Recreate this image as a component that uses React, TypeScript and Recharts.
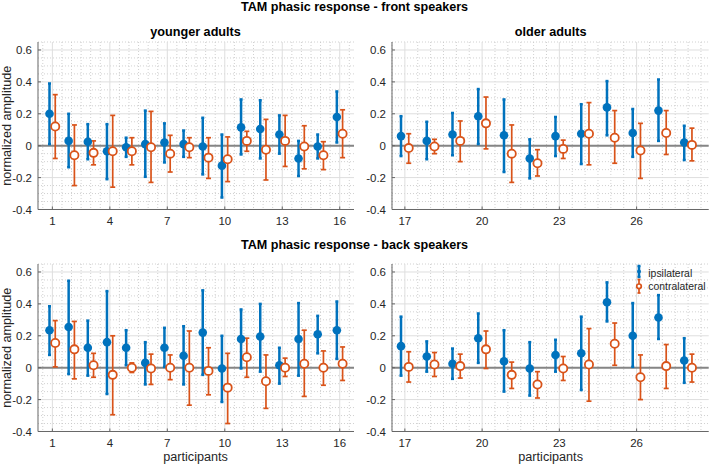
import React from 'react';
import { ComposedChart, Scatter, ErrorBar, XAxis, YAxis, CartesianGrid, ReferenceLine } from 'recharts';

// ---------- categories / ticks ----------
const youngerParticipants = [1, 2, 3, 4, 5, 6, 7, 8, 9, 10, 11, 12, 13, 14, 15, 16];
const olderParticipants = [17, 18, 19, 20, 21, 22, 23, 24, 25, 26, 27, 28];
const youngerTicks = [1, 4, 7, 10, 13, 16];
const olderTicks = [17, 20, 23, 26];
const amplitudeTicks = [-0.4, -0.2, 0, 0.2, 0.4, 0.6];

// ---------- front speakers, younger adults ----------
const frontYoungIpsiMean = [0.2, 0.03, 0.025, -0.035, -0.01, 0.01, 0.02, 0.01, -0.005, -0.125, 0.115, 0.105, 0.07, -0.08, -0.005, 0.18];
const frontYoungIpsiLow = [0.01, -0.135, -0.085, -0.21, -0.07, -0.195, -0.105, -0.07, -0.18, -0.325, -0.055, -0.08, -0.05, -0.19, -0.08, 0.02];
const frontYoungIpsiHigh = [0.39, 0.2, 0.135, 0.135, 0.05, 0.22, 0.14, 0.095, 0.175, 0.07, 0.29, 0.285, 0.19, 0.03, 0.07, 0.34];
const frontYoungContraMean = [0.12, -0.06, -0.045, -0.035, -0.035, -0.01, -0.05, -0.01, -0.075, -0.085, 0.03, -0.025, 0.03, -0.005, -0.06, 0.075];
const frontYoungContraLow = [-0.08, -0.25, -0.12, -0.26, -0.12, -0.23, -0.165, -0.075, -0.205, -0.225, -0.035, -0.215, -0.13, -0.145, -0.15, -0.075];
const frontYoungContraHigh = [0.32, 0.13, 0.03, 0.19, 0.05, 0.215, 0.065, 0.05, 0.05, 0.055, 0.09, 0.165, 0.19, 0.125, 0.025, 0.225];

// ---------- front speakers, older adults ----------
const frontOldIpsiMean = [0.06, 0.03, 0.07, 0.185, 0.065, -0.08, 0.06, 0.075, 0.24, 0.08, 0.22, 0.02];
const frontOldIpsiLow = [-0.065, -0.085, -0.06, 0.01, -0.165, -0.205, -0.065, -0.115, 0.065, -0.07, 0.03, -0.09];
const frontOldIpsiHigh = [0.185, 0.15, 0.205, 0.355, 0.29, 0.04, 0.18, 0.26, 0.405, 0.23, 0.415, 0.125];
const frontOldContraMean = [-0.015, -0.005, 0.03, 0.14, -0.05, -0.11, -0.02, 0.075, 0.05, -0.03, 0.08, 0.005];
const frontOldContraLow = [-0.11, -0.05, -0.1, -0.02, -0.23, -0.19, -0.08, -0.12, -0.11, -0.205, -0.055, -0.095];
const frontOldContraHigh = [0.075, 0.04, 0.155, 0.305, 0.13, -0.025, 0.035, 0.27, 0.22, 0.14, 0.22, 0.11];

// ---------- back speakers, younger adults ----------
const backYoungIpsiMean = [0.235, 0.255, 0.125, 0.16, 0.125, 0.03, 0.125, 0.075, 0.22, -0.005, 0.18, 0.195, 0.015, 0.18, 0.21, 0.235];
const backYoungIpsiLow = [0.08, -0.04, -0.05, -0.165, 0.015, -0.105, 0.005, -0.105, -0.045, -0.215, -0.005, -0.025, -0.1, -0.05, 0.09, 0.055];
const backYoungIpsiHigh = [0.385, 0.545, 0.295, 0.48, 0.235, 0.16, 0.25, 0.26, 0.485, 0.2, 0.365, 0.4, 0.125, 0.405, 0.325, 0.415];
const backYoungContraMean = [0.155, 0.115, 0.015, -0.045, 0.0, -0.005, 0.0, 0.0, -0.02, -0.125, 0.065, -0.085, 0.0, 0.025, 0.0, 0.025];
const backYoungContraLow = [0.005, -0.07, -0.06, -0.295, -0.03, -0.105, -0.075, -0.235, -0.17, -0.35, -0.06, -0.255, -0.055, -0.18, -0.11, -0.08];
const backYoungContraHigh = [0.295, 0.29, 0.09, 0.2, 0.03, 0.085, 0.08, 0.23, 0.125, 0.09, 0.185, 0.08, 0.06, 0.235, 0.105, 0.13];

// ---------- back speakers, older adults ----------
const backOldIpsiMean = [0.135, 0.07, 0.025, 0.185, 0.04, -0.005, 0.08, 0.09, 0.41, 0.2, 0.315, 0.045];
const backOldIpsiLow = [-0.05, -0.025, -0.07, 0.03, -0.15, -0.175, -0.025, -0.14, 0.29, 0.005, 0.18, -0.095];
const backOldIpsiHigh = [0.32, 0.165, 0.12, 0.34, 0.235, 0.16, 0.175, 0.32, 0.535, 0.405, 0.455, 0.185];
const backOldContraMean = [0.005, 0.02, 0.01, 0.115, -0.045, -0.105, -0.005, 0.02, 0.15, -0.06, 0.01, 0.0];
const backOldContraLow = [-0.09, -0.055, -0.065, -0.005, -0.13, -0.19, -0.08, -0.21, 0.015, -0.2, -0.13, -0.09];
const backOldContraHigh = [0.1, 0.095, 0.085, 0.23, 0.035, -0.025, 0.07, 0.245, 0.28, 0.08, 0.145, 0.085];

// ---------- styling ----------
const BLUE = '#0072BD';
const ORANGE = '#D95319';
const FONT = '"Liberation Sans", Arial, Helvetica, sans-serif';
const TEXT = '#262626';

const DODGE = 0.15;

function buildSeries(participants: number[], mean: number[], low: number[], high: number[], offset: number) {
  return participants.map((p, i) => ({
    x: p + offset,
    y: mean[i],
    err: [mean[i] - low[i], high[i] - mean[i]],
  }));
}

function range(from: number, to: number, step: number, skipEvery: number) {
  const out: number[] = [];
  const n = Math.round((to - from) / step);
  for (let i = 0; i <= n; i++) {
    const v = Math.round((from + i * step) * 1000) / 1000;
    const r = v / skipEvery;
    if (Math.abs(r - Math.round(r)) > 1e-6) out.push(v);
  }
  return out;
}

const Y_DOMAIN: [number, number] = [-0.4, 0.65];
const minorY = range(-0.4, 0.65, 0.05, 0.2);

const IpsiDot = (props: any) => {
  const { cx, cy } = props;
  if (cx == null || cy == null) return null;
  return <circle cx={cx} cy={cy} r={4.3} fill={BLUE} />;
};
const ContraDot = (props: any) => {
  const { cx, cy } = props;
  if (cx == null || cy == null) return null;
  return <circle cx={cx} cy={cy} r={4.1} fill="#ffffff" stroke={ORANGE} strokeWidth={1.8} />;
};

type PanelProps = {
  plotLeft: number;
  plotTop: number;
  plotWidth: number;
  plotHeight: number;
  xDomain: [number, number];
  xTicks: number[];
  ipsi: any[];
  contra: any[];
};

const ML = 7;
const YW = 30;
const MT = 6;
const XH = 24;

function Panel({ plotLeft, plotTop, plotWidth, plotHeight, xDomain, xTicks, ipsi, contra }: PanelProps) {
  const width = ML + YW + plotWidth;
  const height = MT + plotHeight + XH;
  const minorX = range(Math.ceil(xDomain[0] * 2) / 2, Math.floor(xDomain[1] * 2) / 2, 0.5, 1000).filter(
    (v) => !xTicks.includes(v)
  );
  return (
    <div style={{ position: 'absolute', left: plotLeft - ML - YW, top: plotTop - MT, width, height }}>
      <ComposedChart width={width} height={height} margin={{ top: MT, right: 0, bottom: 0, left: ML }}>
        <CartesianGrid
          horizontal
          vertical
          horizontalValues={minorY}
          verticalValues={minorX}
          stroke="#c4c4c4"
          strokeDasharray="1 2"
          strokeWidth={0.8}
        />
        <CartesianGrid
          horizontal
          vertical
          horizontalValues={amplitudeTicks}
          verticalValues={xTicks}
          stroke="#dedede"
          strokeWidth={1}
        />
        <XAxis
          type="number"
          dataKey="x"
          domain={xDomain}
          ticks={xTicks}
          interval={0}
          allowDataOverflow
          height={XH}
          tickSize={-3}
          tickMargin={10}
          axisLine={{ stroke: '#666666', strokeWidth: 1 }}
          tickLine={{ stroke: '#666666' }}
          tick={{ fontSize: 11.5, fill: TEXT, fontFamily: FONT }}
        />
        <YAxis
          type="number"
          dataKey="y"
          domain={Y_DOMAIN}
          ticks={amplitudeTicks}
          interval={0}
          allowDataOverflow
          width={YW}
          tickSize={-3}
          tickMargin={9}
          axisLine={{ stroke: '#666666', strokeWidth: 1 }}
          tickLine={{ stroke: '#666666' }}
          tick={{ fontSize: 11.5, fill: TEXT, fontFamily: FONT }}
        />
        <ReferenceLine y={0} stroke="#858585" strokeWidth={2} />
        <Scatter name="ipsilateral" data={ipsi} shape={IpsiDot} isAnimationActive={false}>
          <ErrorBar dataKey="err" direction="y" width={1.5} strokeWidth={2.5} stroke={BLUE} isAnimationActive={false} />
        </Scatter>
        <Scatter name="contralateral" data={contra} shape={ContraDot} isAnimationActive={false}>
          <ErrorBar dataKey="err" direction="y" width={2.5} strokeWidth={1.7} stroke={ORANGE} isAnimationActive={false} />
        </Scatter>
      </ComposedChart>
    </div>
  );
}

const LEFT_X = 37.5;
const RIGHT_X = 392.3;
const PLOT_W_LEFT = 316.1;
const PLOT_W_RIGHT = 316.7;
const TOP_Y = 42;
const BOTTOM_Y = 264;
const PLOT_H = 167.5;

export default function App() {
  const panels = [
    {
      plotLeft: LEFT_X, plotTop: TOP_Y, plotWidth: PLOT_W_LEFT, xDomain: [0.25, 16.75] as [number, number], xTicks: youngerTicks,
      ipsi: buildSeries(youngerParticipants, frontYoungIpsiMean, frontYoungIpsiLow, frontYoungIpsiHigh, -DODGE),
      contra: buildSeries(youngerParticipants, frontYoungContraMean, frontYoungContraLow, frontYoungContraHigh, DODGE),
    },
    {
      plotLeft: RIGHT_X, plotTop: TOP_Y, plotWidth: PLOT_W_RIGHT, xDomain: [16.5, 28.8] as [number, number], xTicks: olderTicks,
      ipsi: buildSeries(olderParticipants, frontOldIpsiMean, frontOldIpsiLow, frontOldIpsiHigh, -DODGE),
      contra: buildSeries(olderParticipants, frontOldContraMean, frontOldContraLow, frontOldContraHigh, DODGE),
    },
    {
      plotLeft: LEFT_X, plotTop: BOTTOM_Y, plotWidth: PLOT_W_LEFT, xDomain: [0.25, 16.75] as [number, number], xTicks: youngerTicks,
      ipsi: buildSeries(youngerParticipants, backYoungIpsiMean, backYoungIpsiLow, backYoungIpsiHigh, -DODGE),
      contra: buildSeries(youngerParticipants, backYoungContraMean, backYoungContraLow, backYoungContraHigh, DODGE),
    },
    {
      plotLeft: RIGHT_X, plotTop: BOTTOM_Y, plotWidth: PLOT_W_RIGHT, xDomain: [16.5, 28.8] as [number, number], xTicks: olderTicks,
      ipsi: buildSeries(olderParticipants, backOldIpsiMean, backOldIpsiLow, backOldIpsiHigh, -DODGE),
      contra: buildSeries(olderParticipants, backOldContraMean, backOldContraLow, backOldContraHigh, DODGE),
    },
  ];

  const leftCenter = LEFT_X + PLOT_W_LEFT / 2;
  const rightCenter = RIGHT_X + PLOT_W_RIGHT / 2;
  const titleStyle = { fontFamily: FONT, fontWeight: 700, fill: '#000' } as const;
  const labelStyle = { fontFamily: FONT, fill: TEXT } as const;

  return (
    <div
      style={{
        position: 'fixed',
        left: 0,
        top: 0,
        width: 709,
        height: 466,
        overflow: 'hidden',
        background: '#ffffff',
      }}
    >
      {panels.map((p, i) => (
        <Panel key={i} {...p} plotHeight={PLOT_H} />
      ))}
      <svg
        width={709}
        height={466}
        style={{ position: 'absolute', left: 0, top: 0, pointerEvents: 'none' }}
      >
        <text x={354.5} y={10.5} textAnchor="middle" fontSize={12.6} style={titleStyle}>
          TAM phasic response - front speakers
        </text>
        <text x={leftCenter} y={35.5} textAnchor="middle" fontSize={12.65} style={titleStyle}>
          younger adults
        </text>
        <text x={rightCenter} y={35.5} textAnchor="middle" fontSize={12.65} style={titleStyle}>
          older adults
        </text>
        <text x={354.5} y={248.5} textAnchor="middle" fontSize={12.6} style={titleStyle}>
          TAM phasic response - back speakers
        </text>
        <text
          x={0}
          y={0}
          transform={`translate(10.5, ${TOP_Y + PLOT_H / 2}) rotate(-90)`}
          textAnchor="middle"
          fontSize={12.65}
          style={labelStyle}
        >
          normalized amplitude
        </text>
        <text
          x={0}
          y={0}
          transform={`translate(10.5, ${BOTTOM_Y + PLOT_H / 2}) rotate(-90)`}
          textAnchor="middle"
          fontSize={12.65}
          style={labelStyle}
        >
          normalized amplitude
        </text>
        <text x={leftCenter} y={460.5} textAnchor="middle" fontSize={12.65} style={labelStyle}>
          participants
        </text>
        <text x={rightCenter} y={460.5} textAnchor="middle" fontSize={12.65} style={labelStyle}>
          participants
        </text>
        {/* legend */}
        <g>
          <line x1={639} y1={266} x2={639} y2={277} stroke={BLUE} strokeWidth={2.5} />
          <line x1={637.5} y1={266} x2={640.5} y2={266} stroke={BLUE} strokeWidth={2.5} />
          <line x1={637.5} y1={277} x2={640.5} y2={277} stroke={BLUE} strokeWidth={2.5} />
          <circle cx={639} cy={271.5} r={2} fill={BLUE} />
          <text x={648.3} y={277} fontSize={10.4} style={labelStyle}>ipsilateral</text>
          <line x1={639} y1={279.5} x2={639} y2={293} stroke={ORANGE} strokeWidth={1.7} />
          <line x1={637.5} y1={279.5} x2={640.5} y2={279.5} stroke={ORANGE} strokeWidth={1.7} />
          <line x1={637.5} y1={293} x2={640.5} y2={293} stroke={ORANGE} strokeWidth={1.7} />
          <circle cx={639} cy={286.3} r={2.3} fill="#fff" stroke={ORANGE} strokeWidth={1.7} />
          <text x={648.3} y={290} fontSize={10.4} style={labelStyle}>contralateral</text>
        </g>
      </svg>
    </div>
  );
}
